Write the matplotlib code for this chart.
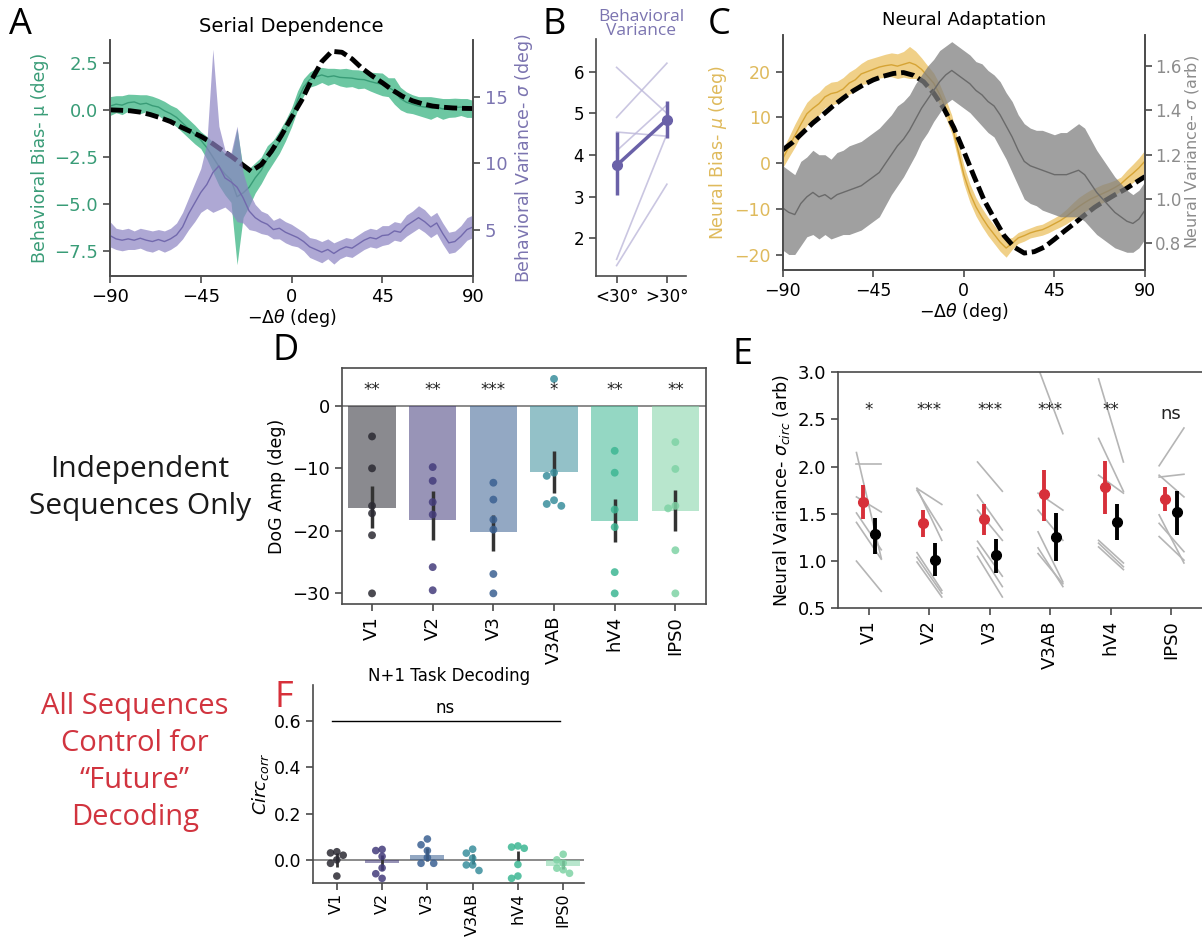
import numpy as np
import matplotlib
matplotlib.use('Agg')
import matplotlib.pyplot as plt

plt.rcParams['font.family'] = 'DejaVu Sans'
plt.rcParams['mathtext.fontset'] = 'dejavusans'

W, H = 1202, 939

# ---------------- data ----------------
theta = np.arange(-90, 91, 3)        # 3 deg grid for the binned curves
fit_theta = np.arange(-90, 91, 5)    # DoG fit curves

# panel A: behavioural bias (mean, half-width) and variance (mean, band)
bias_mu = np.array([0.20, 0.30, 0.25, 0.38, 0.42, 0.30, 0.35, 0.22, 0.15, -0.05,
                    -0.20, -0.40, -0.70, -1.00, -1.30, -1.60, -2.00, -2.50, -3.00, -3.40,
                    -3.70, -4.60, -4.40, -4.10, -3.60, -3.20, -2.60, -2.20, -1.70, -1.10,
                    -0.40, 0.50, 1.20, 1.60, 1.75, 1.85, 1.75, 1.80, 1.72, 1.70,
                    1.68, 1.62, 1.60, 1.50, 1.42, 1.35, 1.20, 1.00, 0.60, 0.40,
                    0.30, 0.20, 0.15, 0.10, 0.15, 0.05, 0.10, 0.12, 0.15, 0.10,
                    0.05])
bias_err = np.array([0.5, 0.45, 0.5, 0.45, 0.4, 0.5, 0.45, 0.5, 0.45, 0.5,
                     0.45, 0.5, 0.5, 0.5, 0.5, 0.45, 0.6, 0.8, 1.0, 1.1,
                     1.2, 3.6, 1.3, 1.0, 0.8, 0.7, 0.7, 0.6, 0.6, 0.55,
                     0.5, 0.5, 0.45, 0.4, 0.45, 0.4, 0.45, 0.4, 0.45, 0.5,
                     0.45, 0.5, 0.45, 0.5, 0.55, 0.6, 0.5, 0.7, 0.6, 0.55,
                     0.5, 0.5, 0.55, 0.6, 0.5, 0.55, 0.5, 0.5, 0.45, 0.5,
                     0.45])
var_mu = np.array([4.55, 4.3, 4.2, 4.3, 4.2, 4.35, 4.2, 4.1, 4.25, 4.1,
                   4.3, 4.6, 5.2, 6.2, 7.0, 7.8, 8.4, 9.3, 9.8, 8.9,
                   8.6, 8.2, 7.4, 6.4, 5.9, 5.6, 5.4, 5.0, 5.1, 4.8,
                   4.6, 4.4, 4.1, 3.7, 3.5, 3.3, 3.5, 3.2, 3.5, 3.7,
                   3.6, 3.9, 4.2, 4.4, 4.3, 4.55, 4.6, 4.9, 4.8, 5.3,
                   5.6, 5.9, 5.6, 5.2, 5.5, 4.7, 4.0, 4.1, 4.5, 5.0,
                   5.2])
var_lo = np.array([3.7, 3.5, 3.4, 3.5, 3.5, 3.6, 3.4, 3.3, 3.5, 3.3,
                   3.5, 3.8, 4.3, 5.0, 5.6, 6.3, 6.6, 6.3, 6.5, 6.7,
                   6.3, 5.6, 5.5, 5.0, 4.9, 4.7, 4.6, 4.3, 4.3, 4.0,
                   3.8, 3.7, 3.4, 2.9, 2.7, 2.5, 2.8, 2.4, 2.8, 3.0,
                   2.9, 3.2, 3.5, 3.7, 3.6, 3.8, 3.9, 4.2, 4.1, 4.5,
                   4.8, 5.1, 4.8, 4.4, 4.7, 3.9, 3.2, 3.3, 3.7, 4.2,
                   4.4])
var_hi = np.array([5.6, 5.1, 5.0, 5.1, 4.9, 5.1, 5.0, 4.9, 5.0, 4.9,
                   5.1, 5.5, 6.3, 7.4, 8.5, 9.6, 11.5, 18.6, 12.8, 11.0,
                   10.8, 12.8, 9.3, 7.8, 6.9, 6.4, 6.2, 5.7, 5.9, 5.6,
                   5.4, 5.1, 4.8, 4.4, 4.3, 4.1, 4.3, 4.0, 4.2, 4.4,
                   4.3, 4.6, 4.9, 5.1, 5.0, 5.3, 5.3, 5.6, 5.5, 6.1,
                   6.4, 6.8, 6.5, 6.0, 6.3, 5.5, 4.8, 4.9, 5.3, 5.9,
                   6.1])
bias_fit = [0.0, -0.02, -0.05, -0.12, -0.25, -0.42, -0.62, -0.9, -1.15, -1.4,
            -1.72, -2.1, -2.45, -2.85, -3.25, -2.9, -2.2, -1.35, -0.4, 0.5,
            1.6, 2.55, 3.1, 3.05, 2.7, 2.2, 1.8, 1.44, 1.05, 0.72,
            0.48, 0.32, 0.2, 0.14, 0.1, 0.08, 0.07]

# panel B: behavioural variance by |dtheta|
b_cats = ['<30°', '>30°']
b_lt30 = [6.1, 4.9, 4.55, 4.1, 1.5, 1.35]
b_gt30 = [5.0, 6.2, 4.45, 5.2, 4.5, 3.3]
b_mean = [3.75, 4.85]
b_lo = [3.05, 4.4]
b_hi = [4.55, 5.3]

# panel C: neural bias and neural variance
nbias_mu = np.array([1.0, 3.5, 6.0, 8.5, 10.8, 12.0, 13.0, 14.5, 15.2, 15.5,
                     16.2, 17.5, 18.2, 19.5, 20.0, 20.5, 21.0, 21.3, 21.5, 21.2,
                     21.6, 22.0, 21.5, 20.5, 19.0, 17.5, 15.0, 12.0, 8.5, 3.0,
                     -2.5, -6.5, -9.5, -11.8, -13.8, -15.5, -17.2, -18.5, -17.5, -16.3,
                     -15.8, -15.2, -14.8, -14.5, -13.9, -13.2, -12.5, -11.6, -10.5, -9.5,
                     -8.6, -7.8, -7.2, -6.6, -6.0, -5.3, -4.5, -3.3, -2.2, -1.0,
                     0.5])
nbias_err = np.array([2.0, 2.2, 2.5, 2.5, 2.5, 2.6, 2.5, 2.4, 2.5, 2.4,
                      2.5, 2.4, 2.5, 2.3, 2.6, 2.5, 2.4, 2.5, 2.6, 2.7,
                      2.8, 3.5, 3.0, 2.5, 2.3, 2.2, 2.2, 2.0, 2.0, 2.0,
                      2.0, 2.0, 2.0, 2.0, 2.0, 2.0, 2.0, 2.0, 1.3, 1.2,
                      1.2, 1.1, 1.2, 1.2, 1.3, 1.3, 1.4, 1.6, 1.8, 2.0,
                      2.0, 2.0, 2.0, 2.0, 1.8, 1.6, 1.5, 1.8, 2.0, 2.2,
                      2.4])
nvar_mu = np.array([0.96, 0.94, 0.93, 0.98, 1.01, 1.03, 1.01, 1.02, 1.00, 1.02,
                    1.03, 1.04, 1.05, 1.06, 1.08, 1.10, 1.12, 1.16, 1.20, 1.24,
                    1.27, 1.31, 1.36, 1.41, 1.45, 1.49, 1.53, 1.56, 1.58, 1.56,
                    1.54, 1.52, 1.49, 1.47, 1.44, 1.42, 1.38, 1.33, 1.28, 1.22,
                    1.17, 1.15, 1.14, 1.13, 1.12, 1.11, 1.11, 1.11, 1.12, 1.13,
                    1.11, 1.07, 1.03, 1.00, 0.97, 0.94, 0.92, 0.90, 0.89, 0.91,
                    0.95])
nvar_err = np.array([0.19, 0.19, 0.18, 0.19, 0.18, 0.19, 0.19, 0.18, 0.18, 0.19,
                     0.19, 0.2, 0.2, 0.2, 0.2, 0.2, 0.2, 0.19, 0.18, 0.18,
                     0.17, 0.16, 0.16, 0.15, 0.15, 0.14, 0.14, 0.13, 0.13, 0.13,
                     0.13, 0.13, 0.13, 0.14, 0.14, 0.14, 0.15, 0.15, 0.16, 0.16,
                     0.17, 0.17, 0.17, 0.18, 0.18, 0.18, 0.19, 0.19, 0.2, 0.21,
                     0.21, 0.2, 0.19, 0.18, 0.17, 0.16, 0.15, 0.14, 0.13, 0.13,
                     0.13])
nbias_fit = [2.9, 4.6, 6.7, 8.8, 10.6, 12.5, 14.2, 15.8, 17.1, 18.2,
             19.0, 19.6, 19.8, 19.2, 17.8, 15.3, 12.0, 7.8, 2.6, -2.8,
             -8.0, -12.0, -15.8, -18.3, -19.6, -19.3, -18.3, -16.6, -14.8, -13.1,
             -11.3, -9.6, -8.2, -6.9, -5.7, -4.3, -2.9]

# ROIs (panels D, E, F)
rois = ['V1', 'V2', 'V3', 'V3AB', 'hV4', 'IPS0']
roi_colors = ['#2b2a33', '#443c7c', '#3b6192', '#3a8e9c', '#3db793', '#7fd3a5']

# panel D: DoG amplitude
d_bar = [-16.4, -18.3, -20.2, -10.6, -18.4, -16.8]
d_lo = [-19.6, -21.5, -23.2, -14.0, -21.8, -20.1]
d_hi = [-12.8, -13.6, -17.5, -7.3, -14.9, -13.5]
d_dots = [[-4.9, -10.0, -16.0, -17.2, -20.7, -30.0],
          [-9.8, -12.0, -15.4, -17.4, -25.8, -29.5],
          [-12.3, -15.0, -18.2, -19.8, -26.9, -30.0],
          [4.3, -10.7, -11.2, -15.1, -15.7, -16.0],
          [-7.2, -10.7, -16.6, -19.4, -26.6, -30.0],
          [-5.8, -10.1, -16.0, -16.4, -23.1, -30.0]]
d_sig = ['**', '**', '***', '*', '**', '**']

# panel E: neural variance, serial (red) vs. far (black)
e_red = [1.63, 1.40, 1.45, 1.71, 1.79, 1.66]
e_red_lo = [1.45, 1.25, 1.28, 1.42, 1.50, 1.53]
e_red_hi = [1.81, 1.54, 1.61, 1.97, 2.06, 1.78]
e_blk = [1.29, 1.01, 1.06, 1.25, 1.41, 1.52]
e_blk_lo = [1.08, 0.84, 0.87, 1.00, 1.22, 1.28]
e_blk_hi = [1.46, 1.19, 1.23, 1.51, 1.61, 1.74]
e_pre = [[2.15, 2.03, 1.68, 1.51, 1.41, 1.00],
         [1.77, 1.77, 1.75, 1.09, 1.04, 0.99],
         [2.05, 1.70, 1.54, 1.21, 1.14, 1.05],
         [3.05, 1.72, 1.54, 1.31, 1.14, 1.08],
         [2.93, 2.30, 1.91, 1.22, 1.19, 1.15],
         [2.01, 1.89, 1.91, 1.40, 1.49, 1.26]]
e_post = [[1.03, 2.03, 1.52, 1.12, 1.02, 0.68],
          [1.60, 1.22, 1.33, 0.69, 0.66, 0.62],
          [1.74, 1.33, 1.22, 0.84, 0.73, 0.62],
          [2.35, 1.54, 1.22, 0.78, 0.73, 0.76],
          [2.05, 1.74, 1.72, 0.98, 0.94, 0.91],
          [2.41, 1.92, 1.68, 1.10, 0.98, 1.01]]
e_sig = ['*', '***', '***', '***', '**', 'ns']

# panel F: N+1 decoding
f_bar = [0.0, -0.015, 0.02, 0.0, 0.0, -0.025]
f_lo = [-0.03, -0.045, -0.005, -0.02, -0.005, -0.04]
f_hi = [0.03, 0.02, 0.05, 0.025, 0.04, 0.0]
f_dots = [[0.035, 0.03, 0.02, 0.0, -0.015, -0.07],
          [0.045, 0.04, 0.015, -0.035, -0.06, -0.08],
          [0.09, 0.065, 0.04, 0.01, -0.015, -0.015],
          [0.046, 0.029, 0.007, -0.022, -0.022, -0.046],
          [0.06, 0.055, 0.05, -0.02, -0.07, -0.08],
          [0.024, 0.0, -0.014, -0.036, -0.043, -0.058]]

# ---------------- styling ----------------
spine_c = '#4a4a4a'
green, green_line = '#52bd92', '#399c77'
purple, purple_line = '#8c83c3', '#7269ad'
purple_txt = '#7b74b0'
gold, gold_line, gold_txt = '#e8b849', '#d6a435', '#dfba5c'
gray, gray_line, gray_txt = '#808080', '#6a6a6a', '#8c8c8c'
red = '#d7303a'
dash = (0, (2.7, 1.0))

fig = plt.figure(figsize=(W / 100, H / 100), dpi=100)


def add_ax(l, t, r, b):
    return fig.add_axes([l / W, 1 - b / H, (r - l) / W, (b - t) / H])


def fig_text(x, y, s, **kw):
    fig.text(x / W, 1 - y / H, s, **kw)


def style(ax, hide=(), size=12.5):
    for name, sp in ax.spines.items():
        sp.set_color(spine_c)
        sp.set_linewidth(1.2)
        if name in hide:
            sp.set_visible(False)
    ax.tick_params(color=spine_c, width=1.2, length=5, labelsize=size)


def swarm(vals, dy, dx):
    # simple beeswarm offsets so overlapping dots sit side by side
    placed, offs = [], []
    cands = [0.0]
    for k in range(1, 6):
        cands += [-k * dx, k * dx]
    for v in vals:
        for c in cands:
            if all(abs(c - po) > 0.9 * dx or abs(v - pv) > dy for po, pv in placed):
                break
        placed.append((c, v))
        offs.append(c)
    return np.array(offs)


# ---------------- A ----------------
axA = add_ax(110, 40, 473, 276)
axA.fill_between(theta, bias_mu - bias_err, bias_mu + bias_err, color=green, alpha=0.85, lw=0)
axA.plot(theta, bias_mu, color=green_line, lw=1)
axA.plot(fit_theta, bias_fit, color='k', lw=3.5, ls=dash)
axA.set_xlim(-90, 90)
axA.set_ylim(-8.8, 3.7)
axA.set_xticks([-90, -45, 0, 45, 90])
axA.set_yticks([-7.5, -5.0, -2.5, 0.0, 2.5])
axA.set_xlabel(r'$-\Delta\theta$ (deg)', fontsize=12.5, labelpad=1)
axA.set_ylabel('Behavioral Bias- μ (deg)', fontsize=12.5, color=green_line)
style(axA, hide=('top',), size=13)
axA.tick_params(axis='y', labelcolor=green_line)
axA.set_title('Serial Dependence', fontsize=14, pad=6)

axA2 = axA.twinx()
axA2.fill_between(theta, var_lo, var_hi, color=purple, alpha=0.7, lw=0)
axA2.plot(theta, var_mu, color=purple_line, lw=1)
axA2.set_ylim(1.5, 19.3)
axA2.set_yticks([5, 10, 15])
axA2.set_ylabel(r'Behavioral Variance- $\sigma$ (deg)', fontsize=12.5, color=purple_txt)
style(axA2, hide=('top',), size=13)
axA2.tick_params(axis='y', labelcolor=purple_txt)

# ---------------- B ----------------
axB = add_ax(596, 39, 686, 276)
for a, b in zip(b_lt30, b_gt30):
    axB.plot([0, 1], [a, b], color='#bdb8da', lw=1.2, alpha=0.8)
axB.errorbar([0, 1], b_mean,
             yerr=[np.subtract(b_mean, b_lo), np.subtract(b_hi, b_mean)],
             color='#6a61a8', lw=2.5, elinewidth=2.5, marker='o', ms=7, zorder=3)
axB.set_xlim(-0.41, 1.38)
axB.set_ylim(1.1, 6.78)
axB.set_xticks([0, 1])
axB.set_xticklabels(b_cats)
axB.set_yticks([2, 3, 4, 5, 6])
style(axB, hide=('top', 'right'), size=12)
axB.set_title('Behavioral\nVariance', fontsize=12.5, color=purple_txt,
              family='Open Sans', linespacing=0.85, pad=2)

# ---------------- C ----------------
axC = add_ax(782.7, 35, 1145, 270)
axC.fill_between(theta, nbias_mu - nbias_err, nbias_mu + nbias_err, color=gold, alpha=0.65, lw=0)
axC.plot(theta, nbias_mu, color=gold_line, lw=1)
axC.plot(fit_theta, nbias_fit, color='k', lw=3.5, ls=dash)
axC.set_xlim(-90, 90)
axC.set_ylim(-23.3, 28.0)
axC.set_xticks([-90, -45, 0, 45, 90])
axC.set_yticks([-20, -10, 0, 10, 20])
axC.set_xlabel(r'$-\Delta\theta$ (deg)', fontsize=12.5, labelpad=1)
axC.set_ylabel(r'Neural Bias- $\mu$ (deg)', fontsize=12.5, color=gold_txt)
style(axC, hide=('top',), size=12.5)
axC.tick_params(axis='y', labelcolor=gold_txt)
axC.set_title('Neural Adaptation', fontsize=13, pad=7)

axC2 = axC.twinx()
axC2.fill_between(theta, nvar_mu - nvar_err, nvar_mu + nvar_err, color=gray, alpha=0.75, lw=0)
axC2.plot(theta, nvar_mu, color=gray_line, lw=1)
axC2.set_ylim(0.68, 1.74)
axC2.set_yticks([0.8, 1.0, 1.2, 1.4, 1.6])
axC2.set_ylabel(r'Neural Variance- $\sigma$ (arb)', fontsize=11.5, color=gray_txt, labelpad=1)
style(axC2, hide=('top',), size=12)
axC2.tick_params(axis='y', labelcolor=gray_txt, pad=2)

# ---------------- D ----------------
axD = add_ax(341.7, 368.3, 705.7, 604)
xD = np.arange(len(rois))
axD.axhline(0, color='#777777', lw=1.2, zorder=1)
axD.bar(xD, d_bar, width=0.78, color=roi_colors, alpha=0.55, zorder=1)
axD.vlines(xD, d_lo, d_hi, color='#333333', lw=2.5, zorder=2)
for i, vals in enumerate(d_dots):
    axD.scatter(i + swarm(vals, 1.15, 0.12), vals, s=32, color=roi_colors[i],
                alpha=0.85, edgecolors='none', zorder=3)
for i, s in enumerate(d_sig):
    axD.text(i, 2.5, s, ha='center', va='center', fontsize=12, color='#222222')
axD.set_xlim(-0.5, 5.5)
axD.set_ylim(-31.7, 6.0)
axD.set_xticks(xD)
axD.set_xticklabels(rois, rotation=90)
axD.set_yticks([-30, -20, -10, 0])
axD.set_ylabel('DoG Amp (deg)', fontsize=12.5)
style(axD, size=13)

# ---------------- E ----------------
axE = add_ax(838.3, 372.3, 1201.5, 608.3)
for i in range(len(rois)):
    for a, b in zip(e_pre[i], e_post[i]):
        axE.plot([i - 0.2, i + 0.21], [a, b], color='#b5b5b5', lw=1.2, zorder=1)
xE = np.arange(len(rois))
axE.errorbar(xE - 0.1, e_red, yerr=[np.subtract(e_red, e_red_lo), np.subtract(e_red_hi, e_red)],
             fmt='o', color=red, ms=7, elinewidth=2.8, capsize=0, zorder=3)
axE.errorbar(xE + 0.1, e_blk, yerr=[np.subtract(e_blk, e_blk_lo), np.subtract(e_blk_hi, e_blk)],
             fmt='o', color='k', ms=7, elinewidth=2.8, capsize=0, zorder=3)
for i, s in enumerate(e_sig):
    if s == 'ns':
        axE.text(i, 2.56, s, ha='center', va='center', fontsize=13, color='#222222')
    else:
        axE.text(i, 2.6, s, ha='center', va='center', fontsize=12, color='#222222')
axE.set_xlim(-0.5, 5.5)
axE.set_ylim(0.5, 3.0)
axE.set_xticks(xE)
axE.set_xticklabels(rois, rotation=90)
axE.set_yticks([0.5, 1.0, 1.5, 2.0, 2.5, 3.0])
axE.set_ylabel(r'Neural Variance- $\sigma_{circ}$ (arb)', fontsize=12.5)
style(axE, hide=('right',), size=13)

# ---------------- F ----------------
axF = add_ax(313.3, 685, 584, 883)
xF = np.arange(len(rois))
axF.axhline(0, color='#777777', lw=1.2, zorder=1)
axF.bar(xF, f_bar, width=0.75, color=roi_colors, alpha=0.55, zorder=1)
axF.vlines(xF, f_lo, f_hi, color='#333333', lw=2, zorder=2)
for i, vals in enumerate(f_dots):
    axF.scatter(i + swarm(vals, 0.028, 0.14), vals, s=30, color=roi_colors[i],
                alpha=0.85, edgecolors='none', zorder=3)
axF.plot([-0.1, 4.93], [0.6, 0.6], color='k', lw=1)
axF.text(2.4, 0.615, 'ns', ha='center', va='bottom', fontsize=12)
axF.set_xlim(-0.52, 5.46)
axF.set_ylim(-0.1, 0.755)
axF.set_xticks(xF)
axF.set_xticklabels(rois, rotation=90)
axF.set_yticks([0.0, 0.2, 0.4, 0.6])
axF.set_ylabel(r'$Circ_{corr}$', fontsize=13, labelpad=2)
style(axF, hide=('top', 'right'), size=12.5)
axF.tick_params(axis='x', labelsize=11.5, pad=2)
axF.set_title('N+1 Task Decoding', fontsize=12, pad=3)

# ---------------- labels / side text ----------------
for x, y, s, c in [(9, 25, 'A', 'k'), (542, 25, 'B', 'k'), (708, 25, 'C', 'k'),
                   (273, 351, 'D', 'k'), (732, 355, 'E', 'k'), (275, 698, 'F', red)]:
    fig_text(x, y, s, fontsize=26, family='Open Sans', color=c, ha='left', va='center')

fig_text(140, 488, 'Independent\nSequences Only', fontsize=21.5, family='Open Sans',
         ha='center', va='center', linespacing=1.4, color='#1a1a1a')
fig_text(135, 762, 'All Sequences\nControl for\n\u201cFuture\u201d\nDecoding', fontsize=21,
         family='Open Sans', ha='center', va='center', linespacing=1.35, color='#d1343f')

fig.savefig('out.png', dpi=100)
